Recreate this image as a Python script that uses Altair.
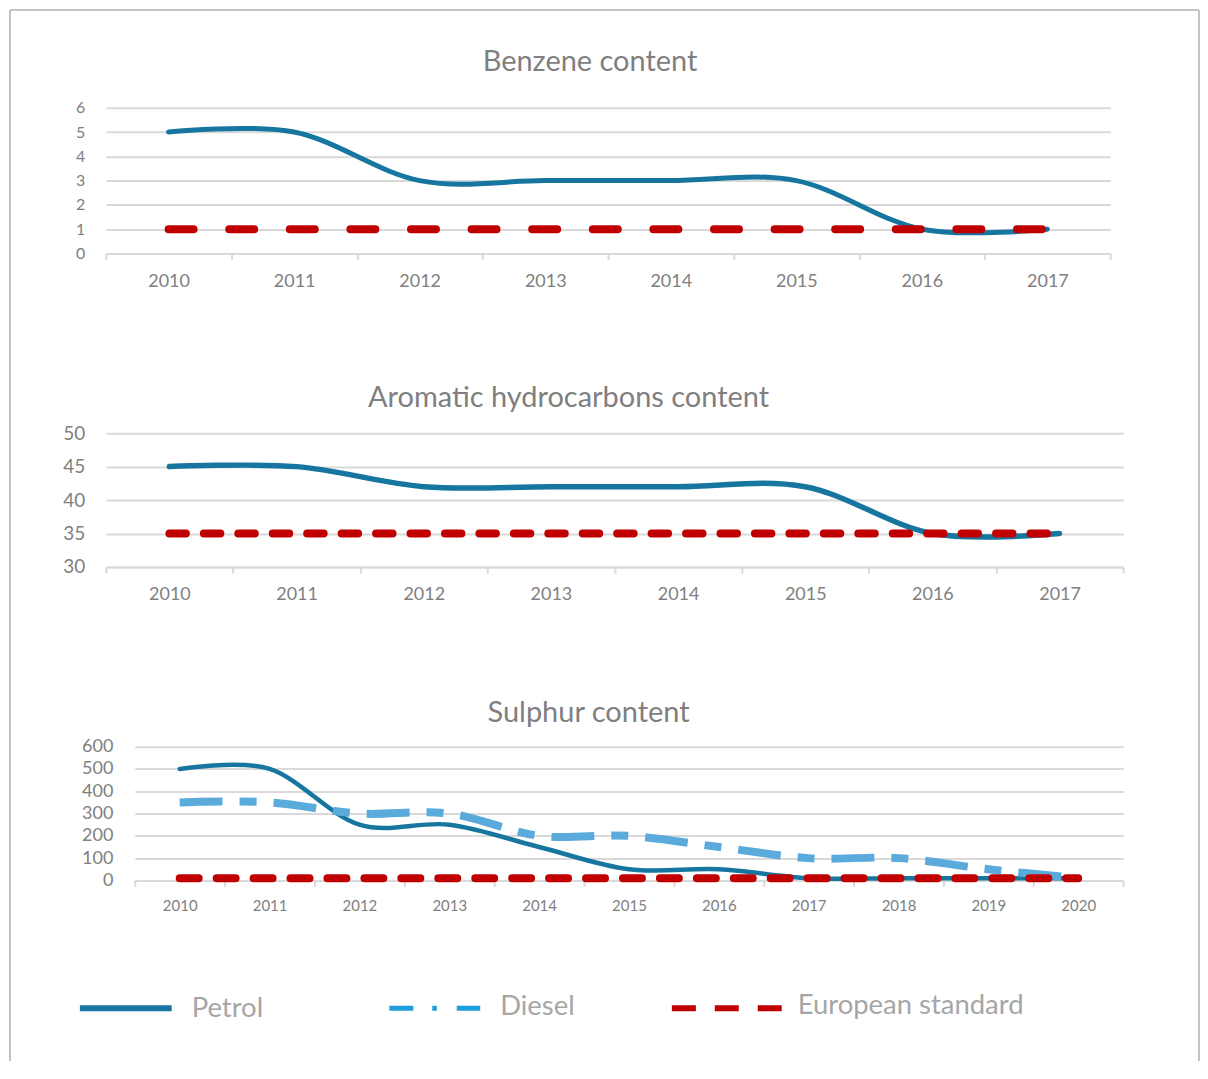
import altair as alt
import pandas as pd

# ---------------- data ----------------
benzene_years = ["2010", "2011", "2012", "2013", "2014", "2015", "2016", "2017"]
benzene_petrol = [5, 5, 3, 3, 3, 3, 1, 1]
benzene_eu = [1, 1, 1, 1, 1, 1, 1, 1]
benzene_ticks = [0, 1, 2, 3, 4, 5, 6]

aromatic_years = ["2010", "2011", "2012", "2013", "2014", "2015", "2016", "2017"]
aromatic_petrol = [45, 45, 42, 42, 42, 42, 35, 35]
aromatic_eu = [35, 35, 35, 35, 35, 35, 35, 35]
aromatic_ticks = [30, 35, 40, 45, 50]

sulphur_years = ["2010", "2011", "2012", "2013", "2014", "2015", "2016",
                 "2017", "2018", "2019", "2020"]
sulphur_petrol = [500, 500, 250, 250, 150, 50, 50, 10, 10, 10, 10]
sulphur_diesel = [350, 350, 300, 300, 200, 200, 150, 100, 100, 50, 10]
sulphur_eu = [10, 10, 10, 10, 10, 10, 10, 10, 10, 10, 10]
sulphur_ticks = [0, 100, 200, 300, 400, 500, 600]

series_names = ["Petrol", "Diesel", "European standard"]
panel_titles = ["Benzene content", "Aromatic hydrocarbons content", "Sulphur content"]

# ---------------- styles ----------------
PETROL = "#1776a0"
DIESEL = "#5baadc"
DIESEL_LEG = "#1d9eda"
EU = "#c00000"
GRID = "#d9d9d9"
LABEL = "#808080"
TITLE = "#7f7f7f"
LEGTXT = "#a6a6a6"
FONT = "Lato"


def make_panel(years, series, ticks, title, width, height, styles,
               xlab_size, ylab_size, xlab_pad, ylab_pad, title_dx, title_offset,
               x_range=None, y_offset=None):
    rows = []
    for name, vals in series:
        for yr, v in zip(years, vals):
            rows.append({"year": yr, "series": name, "value": v})
    df = pd.DataFrame(rows)

    xs = dict(type="band", paddingInner=0, paddingOuter=0, domain=years)
    if x_range is not None:
        xs["range"] = x_range
    xenc = alt.X(
        "year:N", scale=alt.Scale(**xs),
        axis=alt.Axis(title=None, labelAngle=0, tickBand="extent", grid=False,
                      domainColor=GRID, domainWidth=2, tickColor=GRID, tickWidth=2,
                      tickSize=6, labelPadding=xlab_pad, labelFontSize=xlab_size,
                      labelColor=LABEL, labelFont=FONT))
    ya = dict(title=None, values=ticks, domain=False, ticks=False, grid=True,
              gridColor=GRID, gridWidth=2, labelPadding=ylab_pad,
              labelFontSize=ylab_size, labelColor=LABEL, labelFont=FONT)
    if y_offset is not None:
        ya["offset"] = y_offset
    yenc = alt.Y("value:Q",
                 scale=alt.Scale(domain=[ticks[0], ticks[-1]], nice=False, zero=False),
                 axis=alt.Axis(**ya))
    base = alt.Chart(df).encode(x=xenc, y=yenc)
    layers = []
    for name, _ in series:
        layers.append(base.transform_filter(alt.datum.series == name)
                      .mark_line(**styles[name]))
    return alt.layer(*layers).properties(
        width=width, height=height,
        title=alt.TitleParams(text=title, fontSize=29, font=FONT, color=TITLE,
                              fontWeight="normal", anchor="middle", frame="group",
                              dx=title_dx, offset=title_offset, baseline="alphabetic"))


p1 = make_panel(
    benzene_years,
    [(series_names[0], benzene_petrol), (series_names[2], benzene_eu)],
    benzene_ticks, panel_titles[0], 1006, 146,
    {series_names[0]: dict(color=PETROL, strokeWidth=5, interpolate="cardinal", strokeCap="round"),
     series_names[2]: dict(color=EU, strokeWidth=8, strokeDash=[25, 35.7], strokeCap="round")},
    xlab_size=18, ylab_size=16, xlab_pad=13, ylab_pad=21, title_dx=-18, title_offset=0)

p2 = make_panel(
    aromatic_years,
    [(series_names[0], aromatic_petrol), (series_names[2], aromatic_eu)],
    aromatic_ticks, panel_titles[1], 1019, 134,
    {series_names[0]: dict(color=PETROL, strokeWidth=5.5, interpolate="cardinal", strokeCap="round"),
     series_names[2]: dict(color=EU, strokeWidth=8, strokeDash=[16.5, 18], strokeCap="round")},
    xlab_size=18, ylab_size=19, xlab_pad=13, ylab_pad=21, title_dx=-46, title_offset=-12)

p3 = make_panel(
    sulphur_years,
    [(series_names[0], sulphur_petrol), (series_names[1], sulphur_diesel),
     (series_names[2], sulphur_eu)],
    sulphur_ticks, panel_titles[2], 1019, 134,
    {series_names[0]: dict(color=PETROL, strokeWidth=4.5, interpolate="cardinal", strokeCap="round"),
     series_names[1]: dict(color=DIESEL, strokeWidth=8, interpolate="cardinal",
                           strokeDash=[43, 17, 17, 17], strokeCap="butt"),
     series_names[2]: dict(color=EU, strokeWidth=8, strokeDash=[19, 18], strokeCap="round")},
    xlab_size=15, ylab_size=18, xlab_pad=12, ylab_pad=22, title_dx=-26, title_offset=-13,
    x_range=[29, 1019], y_offset=-29)

# ---------------- legend + frame panel ----------------
leg_df = pd.DataFrame({"series": series_names})
LY = -52
lb = alt.Chart(leg_df)


def only(name):
    return lb.transform_filter(alt.datum.series == name)


legend_layers = [
    only(series_names[0]).mark_rule(color=PETROL, strokeWidth=6, strokeCap="butt").encode(
        x=alt.value(-26), x2=alt.value(66), y=alt.value(LY)),
    only(series_names[1]).mark_rule(color=DIESEL_LEG, strokeWidth=5, strokeCap="butt",
                                    strokeDash=[24, 19, 4.5, 20]).encode(
        x=alt.value(284), x2=alt.value(375), y=alt.value(LY)),
    only(series_names[2]).mark_rule(color=EU, strokeWidth=6, strokeCap="butt",
                                    strokeDash=[24, 19]).encode(
        x=alt.value(567), x2=alt.value(677), y=alt.value(LY)),
    only(series_names[0]).mark_text(align="left", baseline="middle", fontSize=27.5,
                                    font=FONT, color=LEGTXT).encode(
        x=alt.value(86), y=alt.value(LY + 1), text="series:N"),
    only(series_names[1]).mark_text(align="left", baseline="middle", fontSize=27.5,
                                    font=FONT, color=LEGTXT).encode(
        x=alt.value(395), y=alt.value(LY - 1), text="series:N"),
    only(series_names[2]).mark_text(align="left", baseline="middle", fontSize=27.5,
                                    font=FONT, color=LEGTXT).encode(
        x=alt.value(693), y=alt.value(LY - 2), text="series:N"),
    # outer frame
    only(series_names[0]).mark_rule(color="#c4c4c4", strokeWidth=2).encode(
        x=alt.value(-96), x2=alt.value(1095), y=alt.value(-1052)),
    only(series_names[0]).mark_rule(color="#c4c4c4", strokeWidth=2).encode(
        x=alt.value(-96), y=alt.value(-1052), y2=alt.value(1)),
    only(series_names[0]).mark_rule(color="#c4c4c4", strokeWidth=2).encode(
        x=alt.value(1095), y=alt.value(-1052), y2=alt.value(1)),
]
p4 = alt.layer(*legend_layers).properties(width=1019, height=1)

chart = alt.vconcat(p1, p2, p3, p4, spacing=180, bounds="flush").properties(
    padding={"left": 1, "top": 0, "right": 0, "bottom": 0}
).configure(font=FONT).configure_view(stroke=None)

chart.save("out.html", embed_options={"renderer": "svg", "actions": False})
